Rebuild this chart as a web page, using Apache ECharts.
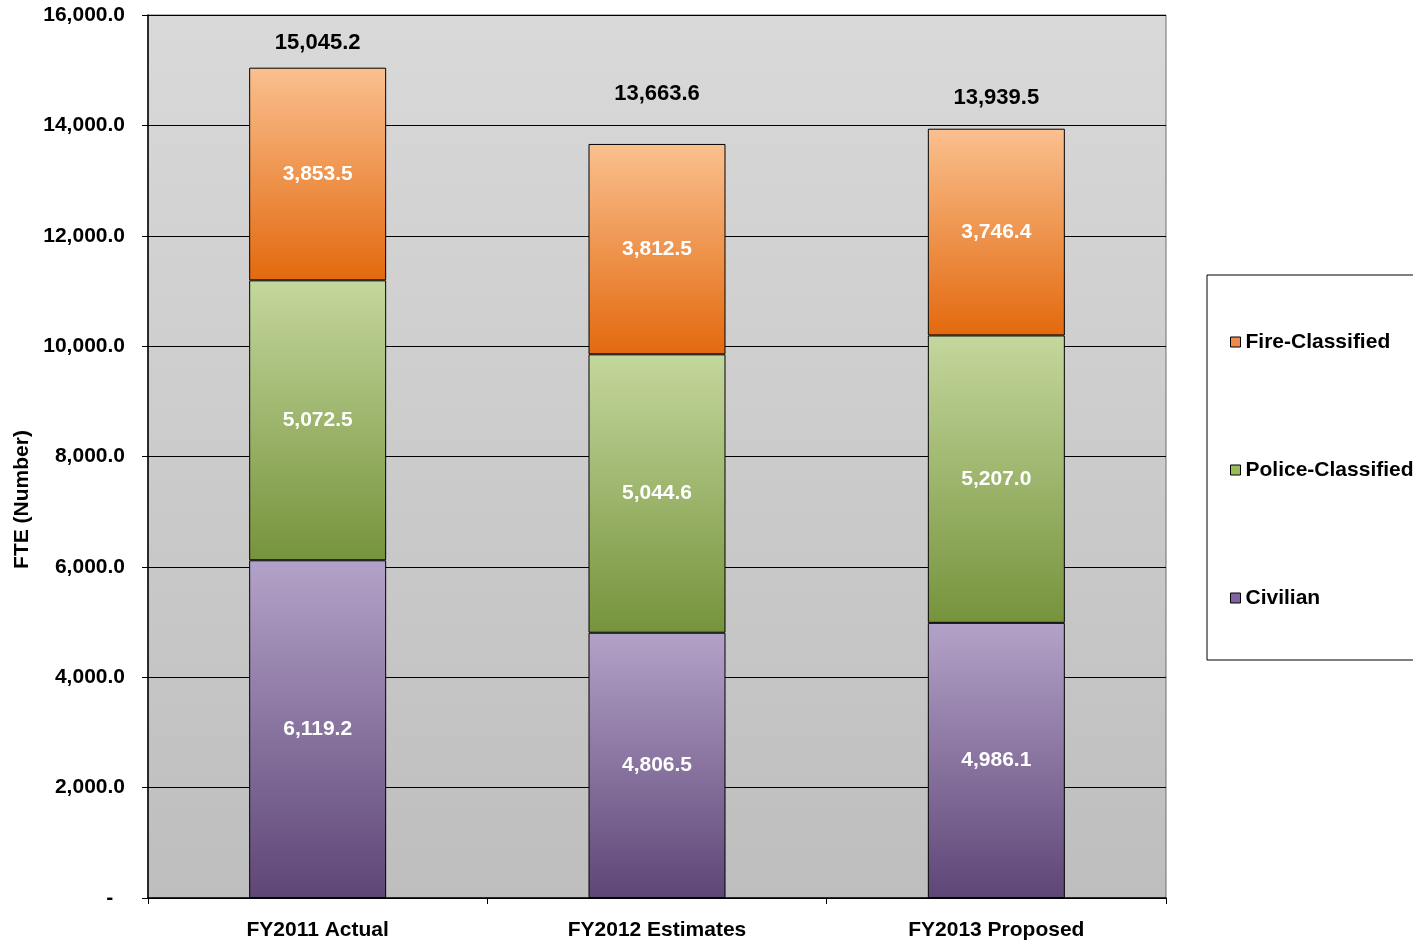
<!DOCTYPE html>
<html>
<head>
<meta charset="utf-8">
<script src="https://cdn.jsdelivr.net/npm/echarts@6/dist/echarts.min.js"></script>
<style>
html,body{margin:0;padding:0;background:#fff;}
#chart{width:1413px;height:942px;}
</style>
</head>
<body>
<div id="chart"></div>
<script>
// FTE staffing by fiscal year
const categories = ['FY2011 Actual', 'FY2012 Estimates', 'FY2013 Proposed'];
const civilian = [6119.2, 4806.5, 4986.1];
const policeClassified = [5072.5, 5044.6, 5207.0];
const fireClassified = [3853.5, 3812.5, 3746.4];
const totals = [15045.2, 13663.6, 13939.5];
const yTicks = [0, 2000, 4000, 6000, 8000, 10000, 12000, 14000, 16000];

const FONT = '"Liberation Sans", Arial, sans-serif';

// accounting-style number: one decimal, zero shown as a dash
function fmt(v) {
  if (v === 0) return '-  ';
  return v.toLocaleString('en-US', {minimumFractionDigits: 1, maximumFractionDigits: 1});
}

function grad(top, bottom) {
  return new echarts.graphic.LinearGradient(0, 0, 0, 1, [
    {offset: 0, color: top}, {offset: 1, color: bottom}
  ]);
}

const segLabel = {
  show: true, position: 'inside', color: '#fff', fontFamily: FONT,
  fontWeight: 'bold', fontSize: 21,
  formatter: p => fmt(p.value)
};

function barSeries(name, data, top, bottom) {
  return {
    name, type: 'bar', stack: 'fte', data, barWidth: 137,
    itemStyle: {color: grad(top, bottom), borderColor: '#000', borderWidth: 1},
    label: segLabel
  };
}

// vertical lift of each total label above its stack
const totalLift = [8, 34, 14];

const chart = echarts.init(document.getElementById('chart'));
chart.setOption({
  animation: false,
  grid: {
    left: 148, right: 247, top: 15, bottom: 44,
    show: true,
    backgroundColor: grad('#d9d9d9', '#bebebe'),
    borderColor: '#6e6e6e', borderWidth: 1
  },
  legend: {
    orient: 'vertical', left: 1207, top: 275,
    padding: [56, 40, 51, 23],
    itemGap: 106, itemWidth: 10, itemHeight: 10,
    borderColor: '#000', borderWidth: 1,
    textStyle: {fontFamily: FONT, fontWeight: 'bold', fontSize: 21, lineHeight: 22, color: '#000'},
    data: [
      {name: 'Fire-Classified', icon: 'rect', itemStyle: {color: '#f08a4b', borderColor: '#000', borderWidth: 1}},
      {name: 'Police-Classified', icon: 'rect', itemStyle: {color: '#9bbb59', borderColor: '#000', borderWidth: 1}},
      {name: 'Civilian', icon: 'rect', itemStyle: {color: '#8064a2', borderColor: '#000', borderWidth: 1}}
    ]
  },
  xAxis: {
    type: 'category', data: categories,
    axisLine: {lineStyle: {color: '#000', width: 1.5}},
    axisTick: {show: true, alignWithLabel: false, length: 6, lineStyle: {color: '#000'}},
    axisLabel: {fontFamily: FONT, fontWeight: 'bold', fontSize: 21, color: '#000', margin: 22}
  },
  yAxis: {
    type: 'value', min: yTicks[0], max: yTicks[yTicks.length - 1], interval: 2000,
    name: 'FTE (Number)', nameLocation: 'middle', nameGap: 109,
    nameTextStyle: {fontFamily: FONT, fontWeight: 'bold', fontSize: 21, color: '#000',
      padding: [0, 86, 0, 0]},
    axisLine: {show: true, lineStyle: {color: '#000', width: 1.5}},
    axisTick: {show: true, length: 6, lineStyle: {color: '#000'}},
    splitLine: {show: true, lineStyle: {color: '#000', width: 1}},
    axisLabel: {fontFamily: FONT, fontWeight: 'bold', fontSize: 21, color: '#000', margin: 23,
      formatter: v => fmt(v)}
  },
  series: [
    barSeries('Civilian', civilian, '#b3a2c8', '#5e4677'),
    barSeries('Police-Classified', policeClassified, '#c4d79d', '#76933c'),
    barSeries('Fire-Classified', fireClassified, '#fac08f', '#e3690e'),
    {
      name: 'Total', type: 'scatter', data: totals.map((v, i) => ({
        value: v,
        label: {offset: [0, -totalLift[i]]}
      })),
      symbolSize: 1, itemStyle: {color: 'rgba(0,0,0,0)'}, silent: true, z: 10,
      label: {show: true, position: 'top', color: '#000', opacity: 1, fontFamily: FONT,
        fontWeight: 'bold', fontSize: 22, formatter: p => fmt(p.value)}
    }
  ]
});
</script>
</body>
</html>
